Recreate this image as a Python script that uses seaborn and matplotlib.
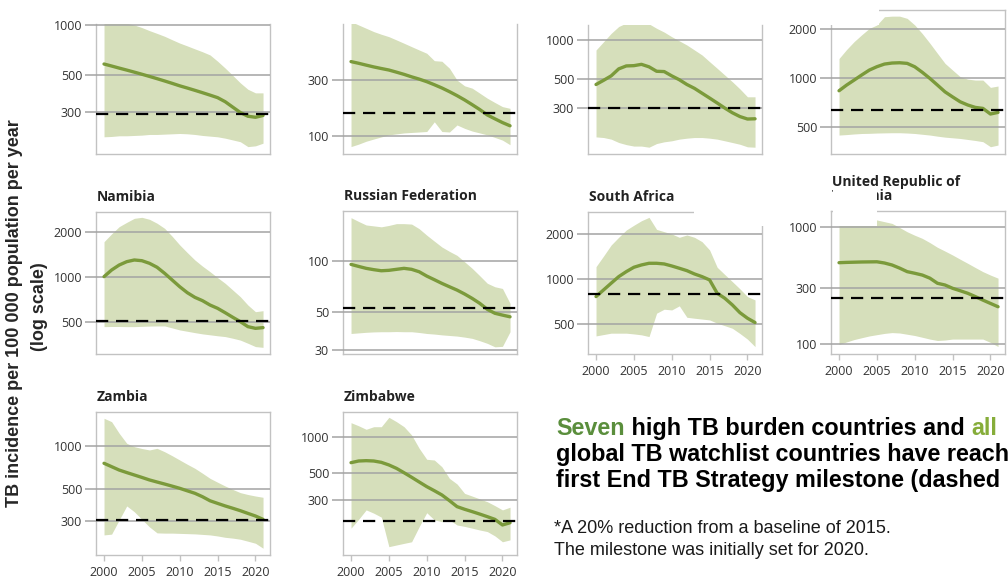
import matplotlib
matplotlib.use("Agg")
import matplotlib.pyplot as plt
import pandas as pd
import seaborn as sns
from matplotlib.patches import Rectangle
from matplotlib.text import Annotation
from matplotlib.ticker import NullLocator

# ---------------------------------------------------------------- data
years = list(range(2000, 2022))

countries = ["Cambodia", "Ethiopia", "Kenya", "Lesotho", "Namibia",
             "Russian Federation", "South Africa",
             "United Republic of\nTanzania", "Zambia", "Zimbabwe"]

cambodia_best = [582, 566, 550, 535, 520, 505, 490, 475, 460, 445, 430,
                 417, 404, 391, 378, 365, 345, 320, 297, 282, 278, 285]
cambodia_lo = [212, 213, 215, 215, 216, 217, 219, 219, 220, 221, 222,
               221, 219, 216, 214, 212, 208, 203, 198, 185, 187, 194]
cambodia_hi = [1090, 1070, 1050, 1025, 1000, 965, 925, 890, 855, 815, 778,
               748, 718, 690, 660, 605, 550, 497, 448, 410, 390, 390]

ethiopia_best = [432, 418, 403, 389, 377, 366, 351, 336, 320, 306, 291,
                 274, 257, 239, 221, 203, 185, 168, 151, 140, 130, 122]
ethiopia_lo = [81, 85, 90, 94, 98, 102, 104, 106, 107, 108, 109,
               132, 109, 108, 124, 116, 110, 106, 102, 97, 92, 84]
ethiopia_hi = [950, 889, 833, 780, 740, 706, 662, 620, 580, 543, 509,
               440, 435, 379, 300, 268, 256, 232, 210, 193, 178, 172]

kenya_best = [455, 490, 530, 600, 632, 635, 650, 622, 575, 572, 530,
              495, 455, 425, 390, 358, 328, 300, 276, 258, 247, 248]
kenya_lo = [180, 178, 173, 163, 157, 153, 153, 150, 160, 165, 168,
            173, 176, 178, 178, 176, 173, 168, 163, 158, 151, 150]
kenya_hi = [838, 970, 1125, 1270, 1350, 1380, 1370, 1330, 1230, 1150, 1060,
            985, 915, 838, 767, 681, 606, 538, 478, 421, 366, 366]

lesotho_best = [835, 905, 972, 1045, 1120, 1175, 1220, 1238, 1243, 1232, 1174,
                1085, 995, 905, 822, 765, 714, 682, 659, 650, 600, 614]
lesotho_lo = [445, 448, 452, 455, 456, 458, 459, 460, 460, 458, 455,
              450, 445, 438, 432, 428, 424, 418, 412, 405, 377, 386]
lesotho_hi = [1320, 1500, 1680, 1850, 2025, 2125, 2390, 2410, 2410, 2335, 2125,
              1880, 1640, 1420, 1232, 1120, 1020, 985, 972, 972, 876, 893]

namibia_best = [1005, 1112, 1200, 1263, 1296, 1282, 1232, 1160, 1058, 955, 862,
                787, 733, 697, 652, 620, 580, 541, 506, 469, 457, 462]
namibia_lo = [469, 470, 470, 469, 469, 471, 473, 474, 474, 460, 446,
              437, 428, 420, 414, 408, 403, 393, 382, 364, 346, 342]
namibia_hi = [1713, 1930, 2154, 2300, 2446, 2484, 2410, 2270, 2100, 1860, 1630,
              1450, 1296, 1180, 1084, 990, 908, 820, 740, 652, 589, 598]

russia_best = [95.6, 93.0, 90.6, 89.0, 87.7, 88.2, 89.4, 90.6, 89.4, 86.5, 81.6,
               77.7, 73.9, 70.6, 67.5, 64.0, 60.3, 56.4, 52.0, 49.3, 48.1, 47.0]
russia_lo = [37.5, 37.8, 38.1, 38.3, 38.4, 38.4, 38.5, 38.4, 38.4, 38.0, 37.5,
             37.2, 36.8, 36.5, 36.2, 35.7, 35.1, 34.0, 32.8, 31.3, 31.5, 38.4]
russia_hi = [180, 171, 163, 161, 159, 162, 166, 166, 165, 155, 142,
             131, 121, 114, 108, 99, 90.6, 82, 74, 70.6, 69, 56.4]

south_africa_best = [764, 846, 937, 1036, 1118, 1195, 1238, 1270, 1270, 1257, 1219,
                     1177, 1135, 1079, 1036, 985, 804, 745, 673, 598, 549, 514]
south_africa_lo = [419, 428, 437, 437, 437, 432, 426, 415, 593, 630, 623,
                   663, 557, 549, 542, 535, 509, 490, 471, 435, 399, 356]
south_africa_hi = [1206, 1420, 1679, 1890, 2110, 2270, 2432, 2560, 2130, 2057, 1987,
                   1888, 1956, 1888, 1766, 1556, 1195, 1070, 960, 860, 764, 726]

tanzania_best = [495, 498, 500, 502, 503, 504, 492, 473, 445, 415, 402,
                 388, 365, 330, 319, 299, 285, 271, 254, 237, 222, 208]
tanzania_lo = [99, 104, 109, 113, 117, 120, 123, 125, 124, 121, 118,
               114, 110, 107, 108, 110, 110, 110, 110, 110, 103, 95]
tanzania_hi = [1150, 1180, 1200, 1180, 1160, 1148, 1110, 1073, 990, 910, 850,
               799, 735, 670, 622, 576, 530, 489, 450, 415, 388, 365]

zambia_best = [757, 717, 679, 652, 627, 603, 579, 560, 542, 524, 506,
               486, 467, 442, 414, 397, 381, 367, 353, 338, 324, 307]
zambia_lo = [239, 242, 304, 381, 347, 307, 272, 247, 246, 246, 245,
             244, 243, 241, 239, 235, 230, 227, 223, 216, 209, 193]
zambia_hi = [1562, 1479, 1227, 1044, 989, 960, 938, 963, 912, 855, 798,
             745, 698, 645, 594, 558, 525, 497, 472, 458, 447, 438]

zimbabwe_best = [611, 631, 635, 631, 615, 585, 548, 504, 462, 422, 386,
                 357, 329, 295, 263, 250, 239, 228, 217, 206, 185, 193]
zimbabwe_lo = [174, 206, 247, 232, 215, 122, 126, 130, 134, 179, 234,
               204, 197, 204, 185, 180, 174, 168, 163, 150, 134, 139]
zimbabwe_hi = [1316, 1240, 1159, 1218, 1218, 1459, 1342, 1218, 1039, 805, 652,
               643, 565, 452, 406, 339, 322, 305, 289, 268, 247, 260]

# first End TB Strategy milestone (20% below the 2015 level)
milestones = [292, 156, 302, 635, 513, 53, 792, 246, 304, 198]

y_ticks = [[300, 500, 1000], [100, 300], [300, 500, 1000], [500, 1000, 2000],
           [500, 1000, 2000], [30, 50, 100], [500, 1000, 2000],
           [100, 300, 1000], [300, 500, 1000], [300, 500, 1000]]
x_ticks = [2000, 2005, 2010, 2015, 2020]

series = [
    (cambodia_best, cambodia_lo, cambodia_hi),
    (ethiopia_best, ethiopia_lo, ethiopia_hi),
    (kenya_best, kenya_lo, kenya_hi),
    (lesotho_best, lesotho_lo, lesotho_hi),
    (namibia_best, namibia_lo, namibia_hi),
    (russia_best, russia_lo, russia_hi),
    (south_africa_best, south_africa_lo, south_africa_hi),
    (tanzania_best, tanzania_lo, tanzania_hi),
    (zambia_best, zambia_lo, zambia_hi),
    (zimbabwe_best, zimbabwe_lo, zimbabwe_hi),
]

# ---------------------------------------------------------------- layout
W, H = 1008, 581
BAND = "#d6dfbb"
LINE = "#7b9a3b"
GRID = "#a3a3a3"
SPINE = "#c2c2c2"
ARIAL = ["Liberation Sans", "DejaVu Sans"]

# panel boxes in pixels: left, top, right, bottom; y-limits; flags
panels = [
    ((96, 24, 270, 154), (167, 1014), False, False),
    ((343, 24, 517, 154), (70, 906), False, False),
    ((588, 25, 762, 154), (133, 1304), False, False),
    ((831, 10, 1005, 154), (340, 2630), False, False),
    ((96, 212, 270, 354), (309, 2694), True, False),
    ((343, 211, 517, 354), (28.4, 197), True, False),
    ((588, 212, 762, 354), (318, 2778), True, True),
    ((831, 211, 1005, 354), (82, 1370), True, True),
    ((96, 412, 270, 555), (173, 1728), True, True),
    ((343, 412, 517, 555), (104, 1615), True, True),
]

sns.set_theme(style="white")
plt.rcParams["font.family"] = ["Open Sans", "DejaVu Sans"]

fig = plt.figure(figsize=(W / 100, H / 100), dpi=100)


def fig_box(l, t, r, b):
    return [l / W, 1 - b / H, (r - l) / W, (b - t) / H]


for i, name in enumerate(countries):
    (l, t, r, b), ylim, titled, xlabels = panels[i]
    best, lo, hi = series[i]
    ax = fig.add_axes(fig_box(l, t, r, b))
    df = pd.DataFrame({"year": years, "best": best, "lo": lo, "hi": hi})

    ax.fill_between(df["year"], df["lo"], df["hi"], color=BAND, lw=0, zorder=1)
    sns.lineplot(data=df, x="year", y="best", ax=ax, color=LINE,
                 linewidth=2.4, zorder=4)
    ax.axhline(milestones[i], xmin=0, xmax=1.02, color="black", lw=1.6,
               dashes=(5.5, 3.5), zorder=5, clip_on=False)

    ax.set_yscale("log")
    ax.set_ylim(*ylim)
    ax.set_xlim(1998.94, 2021.92)
    ax.set_yticks(y_ticks[i])
    ax.set_yticklabels([str(v) for v in y_ticks[i]])
    ax.yaxis.set_minor_locator(NullLocator())
    ax.set_axisbelow(False)
    ax.grid(axis="y", color=GRID, lw=1.1)
    ax.grid(axis="x", visible=False)
    ax.tick_params(axis="y", left=True, length=8, width=1.1, color=GRID,
                   pad=2, labelsize=9, labelcolor="#333333")
    if xlabels:
        ax.set_xticks(x_ticks)
        ax.set_xticklabels([str(v) for v in x_ticks])
        ax.tick_params(axis="x", bottom=True, length=4, width=1, color=SPINE,
                       pad=4, labelsize=9, labelcolor="#333333")
    else:
        ax.set_xticks([])
    ax.set_xlabel("")
    ax.set_ylabel("")
    for sp in ax.spines.values():
        sp.set_color(SPINE)
        sp.set_linewidth(1.0)
    if not titled and i != 3:
        ax.spines["top"].set_visible(False)
    if titled:
        ax.annotate(name, xy=(0, 1), xycoords="axes fraction",
                    xytext=(1, 8), textcoords="offset pixels",
                    ha="left", va="bottom", fontsize=10, fontweight="bold",
                    color="#222222", linespacing=1.0)

# white cut-outs over parts of the grid
for (x0, y0, x1, y1) in [(829, 0, 879, 25), (694, 190, 775, 226),
                         (833, 190, 877, 226)]:
    fig.add_artist(Rectangle((x0 / W, 1 - y1 / H), (x1 - x0) / W,
                             (y1 - y0) / H, transform=fig.transFigure,
                             facecolor="white", edgecolor="none", zorder=20))

# shared y-axis label
fig.text(15 / W, 1 - 313 / H, "TB incidence per 100 000 population per year",
         rotation=90, ha="center", va="center", fontsize=13,
         fontweight="bold", family=ARIAL)
fig.text(40 / W, 1 - 307 / H, "(log scale)", rotation=90, ha="center",
         va="center", fontsize=13, fontweight="bold", family=ARIAL)

# headline message, with coloured runs chained one after another
GREEN1 = "#5a8e3c"
GREEN2 = "#86ad3a"
HEAD_SIZE = 16.8
headline = [
    [("Seven", GREEN1), (" high TB burden countries and ", "black"),
     ("all", GREEN2)],
    [("global TB watchlist countries have reach", "black")],
    [("first End TB Strategy milestone (dashed", "black")],
]
base_lines = [435, 461, 487]
for parts, yb in zip(headline, base_lines):
    prev = fig.text(556 / W, 1 - yb / H, parts[0][0], color=parts[0][1],
                    fontsize=HEAD_SIZE, fontweight="bold", va="baseline",
                    family=ARIAL)
    for txt, col in parts[1:]:
        run = Annotation(txt, xy=(1, 0), xycoords=prev, xytext=(0, 0),
                         textcoords="offset pixels", ha="left", va="bottom",
                         color=col, fontsize=HEAD_SIZE, fontweight="bold",
                         family=ARIAL, annotation_clip=False)
        fig.add_artist(run)
        prev = run

fig.text(554 / W, 1 - 533 / H, "*A 20% reduction from a baseline of 2015.",
         fontsize=13, va="baseline", color="#1a1a1a", family=ARIAL)
fig.text(554 / W, 1 - 555 / H, "The milestone was initially set for 2020.",
         fontsize=13, va="baseline", color="#1a1a1a", family=ARIAL)

fig.savefig("out.png", dpi=100)
